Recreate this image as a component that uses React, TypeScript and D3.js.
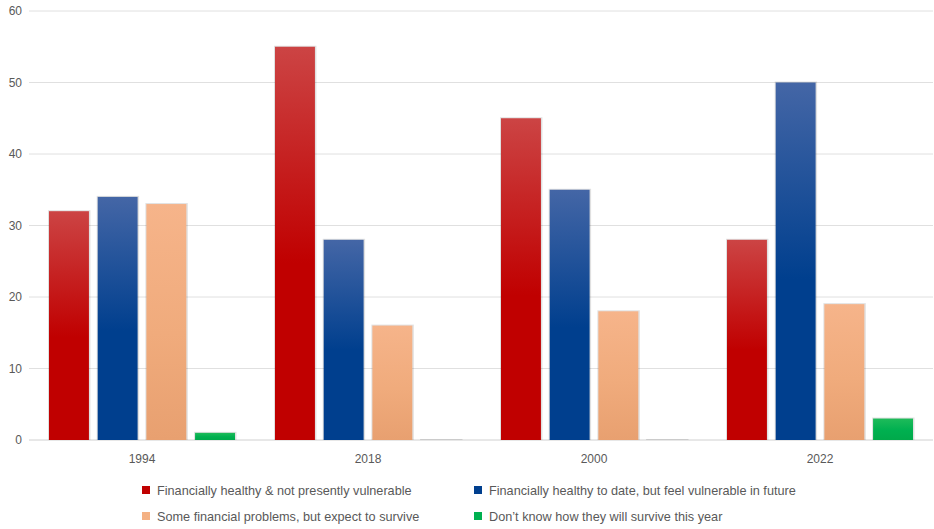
import React from "react";
import * as d3 from "d3";

const categories = ["1994", "2018", "2000", "2022"];
const seriesNames = [
  "Financially healthy & not presently vulnerable",
  "Financially healthy to date, but feel vulnerable in future",
  "Some financial problems, but expect to survive",
  "Don\u2019t know how they will survive this year",
];
const healthy = [32, 55, 45, 28];
const vulnerableFuture = [34, 28, 35, 50];
const someProblems = [33, 16, 18, 19];
const dontKnow = [1, 0, 0, 3];
const yTicks = [0, 10, 20, 30, 40, 50, 60];

const series = [healthy, vulnerableFuture, someProblems, dontKnow];
const gradients = [
  { id: "gRed", top: "#cc4444", mid: "#c00000", bottom: "#c00000", solid: "#c00000" },
  { id: "gBlue", top: "#4466a6", mid: "#003f8e", bottom: "#003f8e", solid: "#003f8e" },
  { id: "gOrange", top: "#f6b48a", mid: "#f0ab7c", bottom: "#e8a070", solid: "#f4b183" },
  { id: "gGreen", top: "#1fbb5a", mid: "#00b050", bottom: "#00a94a", solid: "#00b050" },
];

export default function App() {
  const W = 934, H = 529;
  const left = 29, right = 933, top = 11, bottom = 440;
  const x0 = d3.scaleBand().domain(categories).range([left, right]).paddingInner(0).paddingOuter(0);
  const x1 = d3.scaleBand().domain(d3.range(4).map(String)).range([20, x0.bandwidth() - 20]).paddingInner(0.18).paddingOuter(0);
  const y = d3.scaleLinear().domain([0, 60]).range([bottom, top]);
  const font = "'Liberation Sans', Arial, sans-serif";
  const legendPos = [
    { x: 146, y: 490 },
    { x: 478, y: 490 },
    { x: 146, y: 516 },
    { x: 478, y: 516 },
  ];
  return (
    <svg width={W} height={H} style={{ position: "absolute", left: 0, top: 0, background: "#fff" }}>
      <defs>
        {gradients.map((g) => (
          <linearGradient key={g.id} id={g.id} x1="0" y1="0" x2="0" y2="1">
            <stop offset="0%" stopColor={g.top} />
            <stop offset="55%" stopColor={g.mid} />
            <stop offset="100%" stopColor={g.bottom} />
          </linearGradient>
        ))}
      </defs>
      {yTicks.map((t) => (
        <g key={t}>
          <line x1={left} x2={right} y1={y(t)} y2={y(t)} stroke={t === 0 ? "#d0d0d0" : "#e0e0e0"} strokeWidth={1} />
          <text x={22} y={y(t) + 4} textAnchor="end" fontFamily={font} fontSize={12} fill="#595959">{t}</text>
        </g>
      ))}
      {categories.map((c, ci) => (
        <g key={c} transform={`translate(${x0(c)},0)`}>
          {series.map((s, si) => {
            const bx = x1(String(si))!;
            const bw = x1.bandwidth();
            const yv = y(s[ci]);
            const h = bottom - yv;
            return (
              <g key={si}>
                <rect x={bx - 1} y={yv - 1} width={bw + 2.5} height={h + 1} fill="#000" opacity={0.12} />
                <rect x={bx} y={yv} width={bw} height={h} fill={`url(#${gradients[si].id})`} />
              </g>
            );
          })}
          <text x={x0.bandwidth() / 2} y={463} textAnchor="middle" fontFamily={font} fontSize={12} fill="#595959">{c}</text>
        </g>
      ))}
      {seriesNames.map((n, i) => (
        <g key={n}>
          <rect x={legendPos[i].x - 4} y={legendPos[i].y - 4} width={8} height={8} fill={gradients[i].solid} />
          <text x={legendPos[i].x + 11} y={legendPos[i].y + 4.5} fontFamily={font} fontSize={12.7} fill="#595959">{n}</text>
        </g>
      ))}
    </svg>
  );
}
